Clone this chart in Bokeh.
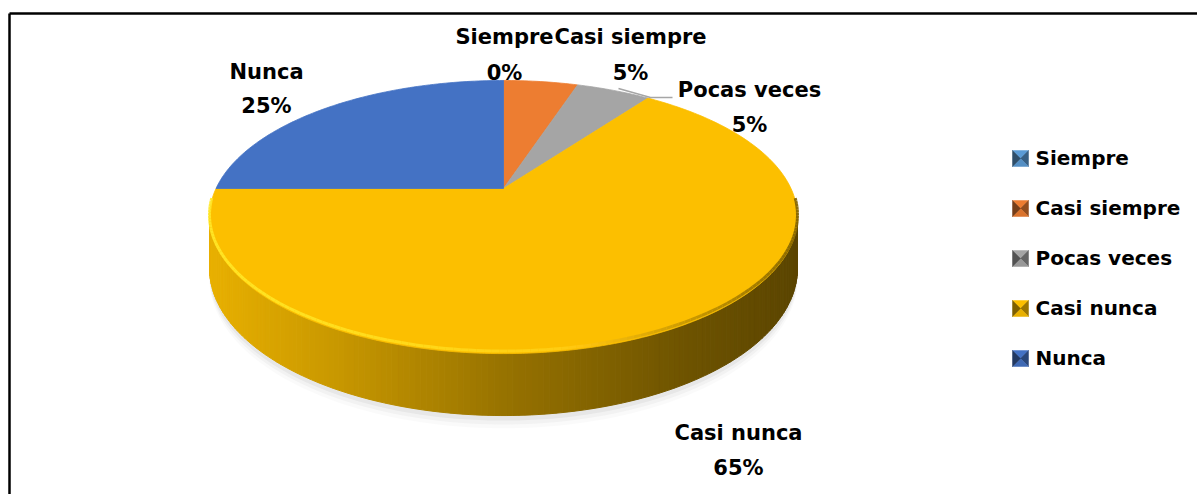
import numpy as np
from bokeh.plotting import figure
from bokeh.models import Range1d, ColumnDataSource
from bokeh.core.properties import value
from bokeh.embed import file_html
from bokeh.resources import INLINE

# ---------------- data ----------------
categories = ["Siempre", "Casi siempre", "Pocas veces", "Casi nunca", "Nunca"]
percentages = [0, 5, 5, 65, 25]
colors = ["#5B9BD5", "#ED7D31", "#A5A5A5", "#FCBF00", "#4472C4"]

# ---------------- layout constants ----------------
W, H = 1197, 494
CX, CY = 503.0, 188.0      # projected pie centre
A, B = 287.5, 130.6        # projected radii
K = 0.209                  # perspective factor
DEPTH = 49.0               # thickness
FONT = value("DejaVu Sans")


def hex2rgb(h):
    h = h.lstrip("#")
    return np.array([int(h[i:i + 2], 16) for i in (0, 2, 4)], dtype=float)


def rgb2hex(c):
    c = np.clip(np.round(c), 0, 255).astype(int)
    return "#%02x%02x%02x" % tuple(c)


def proj(theta_deg, z=0.0):
    t = np.radians(np.asarray(theta_deg, dtype=float))
    u, v = np.sin(t), np.cos(t)
    w = 1 + K * v
    return CX + A * u / w, CY - B * v / w + z / w


p = figure(width=W, height=H, x_range=Range1d(0, W), y_range=Range1d(H, 0),
           output_backend="svg", toolbar_location=None, min_border=0,
           x_axis_location=None, y_axis_location=None, title=None)
p.grid.visible = False
p.outline_line_color = None
p.background_fill_color = "white"
p.border_fill_color = "white"

cum = np.concatenate([[0], np.cumsum(percentages)]) / 100.0 * 360.0

# ---------------- shadow ----------------
for off, alpha in [(10, 0.04), (7, 0.06), (4, 0.09)]:
    tt = np.linspace(88, 272, 120)
    bx, by = proj(tt, DEPTH + off)
    ix, iy = proj(tt[::-1], DEPTH - 20)
    p.patch(list(bx) + list(ix), list(by) + list(iy), fill_color="#7f7f7f",
            fill_alpha=alpha, line_color=None)

# ---------------- side (visible front part) ----------------
th_r = np.degrees(np.arccos(-K))
th_l = 360 - th_r
edges = np.linspace(th_r, th_l, 160)
sx, sy, sc = [], [], []
for a0, a1 in zip(edges[:-1], edges[1:]):
    mid = 0.5 * (a0 + a1)
    idx = int(np.searchsorted(cum, mid, side="right") - 1)
    idx = min(max(idx, 0), len(categories) - 1)
    x0t, y0t = proj(a0)
    x1t, y1t = proj(a1)
    x0b, y0b = proj(a0, DEPTH)
    x1b, y1b = proj(a1, DEPTH)
    xm = 0.5 * (x0t + x1t)
    f = np.interp(xm, [210, 330, 503, 680, 797], [0.92, 0.80, 0.60, 0.44, 0.36])
    sx.append([x0t, x1t, x1b, x0b])
    sy.append([y0t, y1t, y1b, y0b])
    sc.append(rgb2hex(hex2rgb(colors[idx]) * f))
p.patches("xs", "ys", source=ColumnDataSource(dict(xs=sx, ys=sy, c=sc)),
          fill_color="c", line_color="c", line_width=1)

# ---------------- top face ----------------
tx, ty, tc = [], [], []
for i, pct in enumerate(percentages):
    if pct <= 0:
        continue
    t = np.linspace(cum[i], cum[i + 1], max(int(pct * 3.6), 2) + 1)
    ax_, ay_ = proj(t)
    tx.append([CX] + list(ax_))
    ty.append([CY] + list(ay_))
    tc.append(colors[i])
p.patches("xs", "ys", source=ColumnDataSource(dict(xs=tx, ys=ty, c=tc)),
          fill_color="c", line_color="c", line_width=0.8)

# ---------------- bevel on front edge ----------------
be = np.linspace(95, 265, 140)
bxs, bys, bcs = [], [], []
for a0, a1 in zip(be[:-1], be[1:]):
    mid = 0.5 * (a0 + a1)
    idx = int(np.searchsorted(cum, mid, side="right") - 1)
    x0, y0 = proj(a0, -2)
    x1, y1 = proj(a1, -2)
    xm = 0.5 * (x0 + x1)
    base = hex2rgb(colors[idx])
    f = np.interp(xm, [215, 400, 560, 700, 797], [1.06, 1.04, 1.0, 0.75, 0.5])
    c = base * f + np.array([30, 30, 40]) * np.interp(xm, [215, 560, 700], [1, 0.5, 0])
    bxs.append([x0, x1])
    bys.append([y0, y1])
    bcs.append(rgb2hex(c))
p.multi_line("xs", "ys", source=ColumnDataSource(dict(xs=bxs, ys=bys, c=bcs)),
             line_color="c", line_width=3, line_alpha=0.9)

# ---------------- data labels ----------------
label_pos = {  # centre x, name baseline, pct baseline
    "Siempre": (504, 36, 72),
    "Casi siempre": (630, 36, 72),
    "Pocas veces": (749, 89, 124),
    "Casi nunca": (738, 432, 467),
    "Nunca": (266, 71, 105),
}
lx, ly, lt = [], [], []
for cat, pct in zip(categories, percentages):
    x, yb1, yb2 = label_pos[cat]
    lx += [x, x]
    ly += [yb1, yb2]
    lt += [cat, "%d%%" % pct]
p.text(x=lx, y=ly, text=lt, text_font=FONT, text_font_style="bold",
       text_font_size="21px", text_align="center", text_baseline="alphabetic",
       text_color="black")

# leader line for "Pocas veces"
p.line([618, 650, 672], [88, 97, 97], line_color="#A6A6A6", line_width=1.5)

# ---------------- legend ----------------
LX, LY0, LDY, S = 1020, 158, 50, 8
gx, gy, gc = [], [], []
for i, cat in enumerate(categories):
    cy = LY0 + i * LDY
    base = hex2rgb(colors[i])
    tl, tr = (LX - S, cy - S), (LX + S, cy - S)
    br, bl = (LX + S, cy + S), (LX - S, cy + S)
    c = (LX, cy)
    for tri, f in [((tl, tr, c), 1.0), ((tr, br, c), 0.62),
                   ((br, bl, c), 0.92), ((bl, tl, c), 0.5)]:
        gx.append([pt[0] for pt in tri])
        gy.append([pt[1] for pt in tri])
        gc.append(rgb2hex(base * f))
p.patches("xs", "ys", source=ColumnDataSource(dict(xs=gx, ys=gy, c=gc)),
          fill_color="c", line_color="c", line_width=0.5)
p.text(x=[1035] * len(categories), y=[LY0 - 1 + i * LDY for i in range(len(categories))],
       text=categories, text_font=FONT, text_font_style="bold", text_font_size="20px",
       text_align="left", text_baseline="alphabetic", text_color="black")

# ---------------- chart frame ----------------
p.line([9, 9], [13, 500], line_color="black", line_width=2.5)
p.line([9, 1200], [13, 13], line_color="black", line_width=2.5)

open("out.html", "w").write(file_html(p, INLINE))
